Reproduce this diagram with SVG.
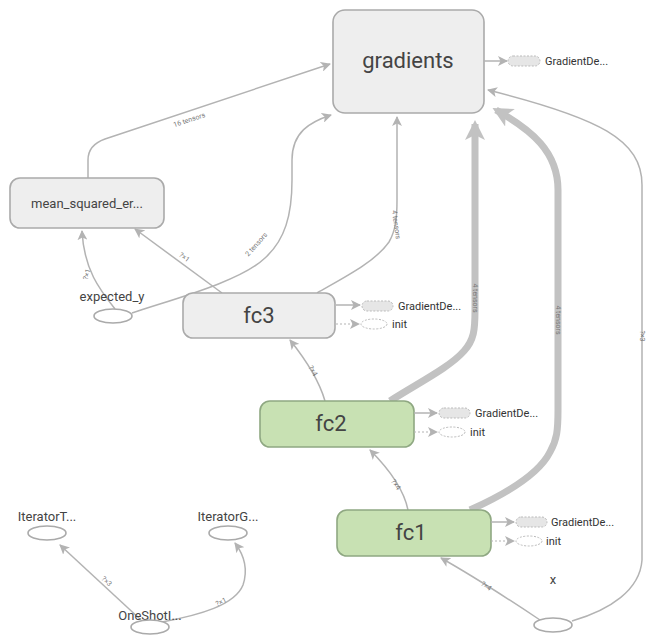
<svg xmlns="http://www.w3.org/2000/svg" width="646" height="636" viewBox="0 0 646 636">
  <style>
    text { font-family: Roboto, "Liberation Sans", sans-serif; fill: #333; }
    .op { fill: #eeeeee; stroke: #aaaaaa; stroke-width: 1.6; }
    .op-green { fill: #c8e1b3; stroke: #8fa882; stroke-width: 1.6; }
    .name-big { font-size: 22px; text-anchor: middle; fill: #444; }
    .name-mid { font-size: 13px; text-anchor: middle; fill: #444; }
    .name-small { font-size: 11px; fill: #333; }
    .leaf { fill: #ffffff; stroke: #aaaaaa; stroke-width: 1.6; }
    .edge { fill: none; stroke: #b3b3b3; stroke-width: 1.5; }
    .edge-thick { fill: none; stroke: #c2c2c2; stroke-width: 7; }
    .ctrl { fill: none; stroke: #b3b3b3; stroke-width: 1.2; stroke-dasharray: 2 2; }
    .aux-box { fill: #e6e6e6; stroke: #bbbbbb; stroke-width: 1; stroke-dasharray: 2 1.5; }
    .aux-ell { fill: #ffffff; stroke: #bbbbbb; stroke-width: 1; stroke-dasharray: 2 1.5; }
    .elabel { font-size: 7px; fill: #777; text-anchor: middle; }
  </style>
  <defs>
    <marker id="arrow" viewBox="0 0 10 10" refX="9" refY="5" markerWidth="10" markerHeight="10" markerUnits="userSpaceOnUse" orient="auto">
      <path d="M0,0 L10,5 L0,10 L2.5,5 z" fill="#b3b3b3"/>
    </marker>
    <marker id="arrow-thick" viewBox="0 0 10 10" refX="8" refY="5" markerWidth="20" markerHeight="20" markerUnits="userSpaceOnUse" orient="auto">
      <path d="M0,0 L10,5 L0,10 L2.5,5 z" fill="#c2c2c2"/>
    </marker>
  </defs>

  <!-- connectors -->
  <g id="edges">
    <path class="edge" d="M88,178 L88,160 Q88,145 105,139 L330,64" marker-end="url(#arrow)"/>
    <path class="edge" d="M115,309 C100,290 84,270 82,231" marker-end="url(#arrow)"/>
    <path class="edge" d="M132,313 C170,300 240,282 265,258 C285,240 292,215 292,180 L292,160 C292,132 310,122 331,115" marker-end="url(#arrow)"/>
    <path class="edge" d="M222,293 L135,229" marker-end="url(#arrow)"/>
    <path class="edge" d="M317,293 C345,277 375,262 389,242 C396,230 397,216 397,200 L397,117" marker-end="url(#arrow)"/>
    <path class="edge-thick" d="M390,401 C420,382 450,367 464,351 C474,340 475,330 475,310 L475,124" marker-end="url(#arrow-thick)"/>
    <path class="edge-thick" d="M470,510 C510,492 540,472 550,452 C557,440 558,430 558,410 L558,190 C558,152 532,130 496,110" marker-end="url(#arrow-thick)"/>
    <path class="edge" d="M572,621 C610,610 640,590 642,560 L642,185 C642,140 600,118 488,90" marker-end="url(#arrow)"/>
    <path class="edge" d="M325,401 C319,380 306,360 290,340" marker-end="url(#arrow)"/>
    <path class="edge" d="M408,510 C404,490 390,470 370,450" marker-end="url(#arrow)"/>
    <path class="edge" d="M540,620 C510,600 480,580 441,558" marker-end="url(#arrow)"/>
    <path class="edge" d="M141,620 L60,545" marker-end="url(#arrow)"/>
    <path class="edge" d="M162,622 C200,615 235,605 243,585 C248,570 244,555 235,543" marker-end="url(#arrow)"/>

    <text class="elabel" transform="translate(190,122) rotate(-18.5)">16 tensors</text>
    <text class="elabel" transform="translate(89,275) rotate(-75)">?×1</text>
    <text class="elabel" transform="translate(258,246) rotate(-48)">2 tensors</text>
    <text class="elabel" transform="translate(183,259) rotate(37)">?×1</text>
    <text class="elabel" transform="translate(394,225) rotate(82)">4 tensors</text>
    <text class="elabel" transform="translate(473,298) rotate(90)">4 tensors</text>
    <text class="elabel" transform="translate(556,320) rotate(90)">4 tensors</text>
    <text class="elabel" transform="translate(640,336) rotate(90)">?×3</text>
    <text class="elabel" transform="translate(311,372) rotate(60)">?×4</text>
    <text class="elabel" transform="translate(394,486) rotate(55)">?×4</text>
    <text class="elabel" transform="translate(485,588) rotate(34)">?×4</text>
    <text class="elabel" transform="translate(105,583) rotate(43)">?×3</text>
    <text class="elabel" transform="translate(222,604) rotate(-25)">?×1</text>
  </g>

  <!-- gradients -->
  <g id="gradients">
    <rect class="op" x="333" y="10" width="151" height="103" rx="12"/>
    <text class="name-big" x="408" y="68">gradients</text>
    <path class="edge" d="M484,61 L507,61" marker-end="url(#arrow)"/>
    <rect class="aux-box" x="508" y="56" width="32" height="10" rx="5"/>
    <text class="name-small" x="545" y="65">GradientDe...</text>
  </g>

  <g id="mean_squared_error">
    <rect class="op" x="10" y="178" width="154" height="50" rx="10"/>
    <text class="name-mid" x="87" y="208">mean_squared_er...</text>
  </g>

  <g id="expected_y">
    <text class="name-mid" x="112" y="301">expected_y</text>
    <ellipse class="leaf" cx="113" cy="316" rx="19" ry="7"/>
  </g>

  <g id="fc3">
    <rect class="op" x="183" y="293" width="152" height="45" rx="10"/>
    <text class="name-big" x="259" y="323">fc3</text>
    <path class="edge" d="M336,305 L360,305" marker-end="url(#arrow)"/>
    <rect class="aux-box" x="362" y="301" width="31" height="10" rx="5"/>
    <text class="name-small" x="398" y="310">GradientDe...</text>
    <path class="ctrl" d="M336,324 L359,324" marker-end="url(#arrow)"/>
    <ellipse class="aux-ell" cx="374" cy="324" rx="13" ry="5"/>
    <text class="name-small" x="392" y="328">init</text>
  </g>

  <g id="fc2">
    <rect class="op-green" x="260" y="401" width="154" height="46" rx="10"/>
    <text class="name-big" x="331" y="431">fc2</text>
    <path class="edge" d="M414,413 L437,413" marker-end="url(#arrow)"/>
    <rect class="aux-box" x="439" y="408" width="31" height="10" rx="5"/>
    <text class="name-small" x="475" y="417">GradientDe...</text>
    <path class="ctrl" d="M414,432 L437,432" marker-end="url(#arrow)"/>
    <ellipse class="aux-ell" cx="452" cy="432" rx="13" ry="5"/>
    <text class="name-small" x="470" y="436">init</text>
  </g>

  <g id="fc1">
    <rect class="op-green" x="337" y="510" width="154" height="46" rx="10"/>
    <text class="name-big" x="411" y="540">fc1</text>
    <path class="edge" d="M491,522 L514,522" marker-end="url(#arrow)"/>
    <rect class="aux-box" x="516" y="517" width="31" height="10" rx="5"/>
    <text class="name-small" x="551" y="526">GradientDe...</text>
    <path class="ctrl" d="M491,541 L514,541" marker-end="url(#arrow)"/>
    <ellipse class="aux-ell" cx="529" cy="541" rx="13" ry="5"/>
    <text class="name-small" x="546" y="545">init</text>
  </g>

  <g id="x">
    <text class="name-mid" x="553" y="584">x</text>
    <ellipse class="leaf" cx="553" cy="625" rx="19" ry="7"/>
  </g>

  <g id="IteratorToStringHandle">
    <text class="name-mid" x="47" y="521">IteratorT...</text>
    <ellipse class="leaf" cx="47" cy="533" rx="19" ry="7"/>
  </g>

  <g id="IteratorGetNext">
    <text class="name-mid" x="228" y="521">IteratorG...</text>
    <ellipse class="leaf" cx="228" cy="533" rx="19" ry="7"/>
  </g>

  <g id="OneShotIterator">
    <text class="name-mid" x="150" y="620">OneShotI...</text>
    <ellipse class="leaf" cx="150" cy="627" rx="19" ry="7"/>
  </g>
</svg>
